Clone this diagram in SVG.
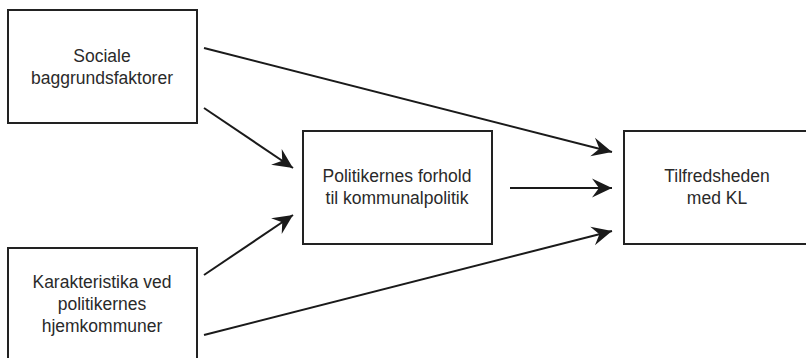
<svg xmlns="http://www.w3.org/2000/svg" width="806" height="358" viewBox="0 0 806 358">
<style>
.box{fill:#fff;stroke:#222;stroke-width:2}
.t{font-family:"Liberation Sans",Arial,sans-serif;font-size:17.5px;fill:#2a2a2a;text-anchor:middle}
.c{stroke:#1a1a1a;stroke-width:2;fill:none;marker-end:url(#ah)}
</style>
<defs>
<marker id="ah" markerUnits="userSpaceOnUse" markerWidth="24" markerHeight="24" viewBox="-22 -12 24 24" refX="0" refY="0" orient="auto">
<path d="M0,0 L-20,-9.5 L-13,0 L-20,9.5 Z" fill="#1a1a1a"/>
</marker>
</defs>
<rect width="806" height="358" fill="#fff"/>
<g id="sociale">
<rect class="box" x="8" y="10" width="189" height="113"/>
<text class="t" x="102" y="62">Sociale</text>
<text class="t" x="102" y="84">baggrundsfaktorer</text>
</g>
<g id="karakteristika">
<rect class="box" x="8" y="248" width="189" height="120"/>
<text class="t" x="102" y="288">Karakteristika ved</text>
<text class="t" x="102" y="310">politikernes</text>
<text class="t" x="102" y="332">hjemkommuner</text>
</g>
<g id="politikernes">
<rect class="box" x="303" y="131" width="189" height="113"/>
<text class="t" x="397" y="182">Politikernes forhold</text>
<text class="t" x="397" y="204">til kommunalpolitik</text>
</g>
<g id="tilfredsheden">
<rect class="box" x="624" y="131" width="189" height="113"/>
<text class="t" x="717" y="182">Tilfredsheden</text>
<text class="t" x="717" y="204">med KL</text>
</g>
<g id="connectors">
<line class="c" x1="204" y1="48" x2="612" y2="152"/>
<line class="c" x1="204" y1="108" x2="293" y2="168"/>
<line class="c" x1="204" y1="275" x2="293" y2="215"/>
<line class="c" x1="510" y1="188" x2="612" y2="188"/>
<line class="c" x1="204" y1="335" x2="612" y2="231"/>
</g>
</svg>
